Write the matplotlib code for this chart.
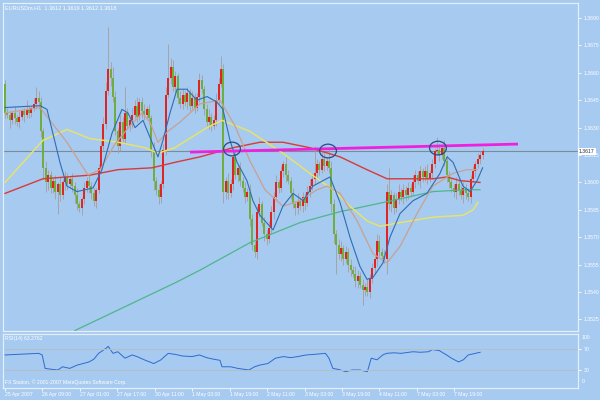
import matplotlib.pyplot as plt
import numpy as np
from matplotlib.patches import Ellipse

# EURUSDm H1, 25 Apr - 7 May 2007. prices stored as pips above BASE
BASE = 1.3500

first_open = 154
closes = [
    138, 137, 134, 138, 135, 133, 136, 139, 137, 140, 138, 141, 143, 146, 144,
    128, 108, 100, 104, 97, 101, 95, 99, 93, 100, 103, 99, 102, 98,
    93, 88, 86, 91, 97, 101, 98, 94, 90, 96, 108, 120, 132,
    150, 162, 157, 147, 128, 120, 133, 124, 138, 131, 134, 137, 142,
    136, 144, 139, 137, 140, 135, 118, 101, 96, 92, 99, 118, 148, 157,
    163, 152, 158, 146, 143, 148, 144, 149, 142, 146, 141, 147, 156, 151,
    140, 133, 136, 131, 134, 145, 154, 162, 95, 101, 94, 99, 114,
    104, 108, 101, 97, 92, 95, 80, 66, 62, 84, 88, 78, 72, 69, 75, 84,
    92, 100, 97, 106, 110, 104, 101, 94, 88, 86, 90, 87, 92, 89,
    95, 98, 102, 105, 110, 107, 113, 109, 112, 108, 88, 72,
    66, 61, 64, 58, 62, 55, 52, 50, 46, 49, 44, 41, 43, 40, 47, 53, 58,
    68, 62, 60, 58, 95, 88, 93, 86, 91, 95, 92, 96, 93, 97, 95,
    100, 104, 101, 106, 103, 106, 102, 105, 110, 117, 118, 115, 119,
    112, 104, 100, 97, 95, 99, 96, 93, 97, 94, 92, 102, 106, 110, 113, 115, 117,
]
upper_wick = [
    2, 3, 2, 1, 4, 2, 3, 1, 2, 5, 2, 1, 3, 6, 4, 3, 2, 4, 3, 2,
    2, 3, 1, 4, 2, 3, 2, 1, 3, 2, 4, 2, 1, 3, 2, 4, 2, 3, 1, 2,
    3, 4, 5, 23, 4, 6, 3, 2, 4, 3, 14, 3, 2, 4, 3, 5, 2, 3, 4, 2,
    3, 2, 4, 2, 3, 2, 3, 4, 19, 5, 4, 3, 2, 4, 3, 2, 3, 2, 4, 3,
    2, 4, 3, 2, 3, 4, 2, 3, 4, 3, 7, 3, 2, 4, 3, 5, 3, 2, 3, 2,
    3, 2, 4, 3, 2, 3, 4, 2, 3, 2, 4, 3, 3, 4, 2, 3, 2, 4, 3, 2,
    3, 2, 4, 2, 3, 2, 3, 4, 3, 15, 3, 2, 4, 3, 2, 7, 4, 3, 2, 3,
    4, 2, 3, 2, 3, 2, 4, 3, 2, 3, 2, 4, 3, 3, 2, 4, 3, 2, 3, 4,
    13, 3, 2, 3, 4, 2, 3, 2, 3, 2, 4, 3, 2, 3, 2, 3, 4, 2, 3, 2,
    7, 3, 2, 4, 3, 2, 3, 2, 4, 3, 2, 3, 2, 3, 2, 3, 2, 3, 2, 2,
]
lower_wick = [
    3, 2, 4, 2, 3, 2, 3, 2, 4, 2, 3, 2, 2, 3, 4, 3, 6, 5, 4, 3,
    3, 4, 12, 3, 2, 4, 3, 2, 3, 4, 3, 2, 4, 3, 2, 4, 3, 3, 4, 2,
    3, 2, 3, 2, 4, 3, 2, 4, 3, 2, 3, 2, 3, 4, 2, 3, 2, 4, 3, 2,
    3, 4, 5, 3, 4, 3, 2, 3, 2, 3, 2, 4, 3, 2, 3, 2, 4, 3, 2, 3,
    2, 3, 2, 3, 2, 4, 3, 2, 3, 2, 2, 6, 4, 3, 2, 3, 2, 4, 3, 2,
    3, 2, 4, 3, 3, 4, 3, 2, 4, 3, 2, 3, 4, 2, 3, 2, 3, 4, 2, 3,
    2, 4, 3, 2, 3, 4, 2, 3, 2, 3, 2, 3, 2, 3, 2, 3, 4, 5, 16, 3,
    4, 3, 2, 4, 3, 2, 3, 4, 2, 8, 3, 2, 3, 2, 3, 4, 2, 3, 2, 8,
    3, 4, 3, 2, 3, 2, 4, 3, 2, 3, 2, 3, 2, 4, 3, 2, 3, 2, 3, 2,
    2, 3, 2, 3, 4, 3, 2, 3, 4, 3, 2, 4, 3, 2, 3, 2, 3, 2, 3, 2,
]

# moving averages (bar index, pips)
blue_x = [0, 14.6, 17.5, 22.9, 25.8, 30, 36.7, 40.4, 44.6, 48.75, 51.25, 54.2, 57.5,
          61.25, 63.75, 65.8, 68.75, 71.7, 75.8, 80, 84.2, 88.3, 90.8, 93.75, 96.7,
          100.8, 103.3, 106.25, 111.7, 115.8, 120, 124.2, 128.3, 132.5, 135.4, 139.6,
          143.75, 147.9, 150.8, 153.3, 157.5, 160.4, 164.6, 170, 175.8, 181.25, 184.2,
          186.7, 190.8, 193.75, 196.7, 199]
blue_y = [141, 142, 140, 111, 98, 95, 97, 107, 127, 140, 138, 130, 134,
          122, 114, 123, 138, 151, 151, 145, 147, 144, 140, 123, 111,
          101, 90, 82, 74, 87, 94, 90, 98, 101, 103, 89,
          70, 54, 47, 48, 56, 70, 83, 90, 94, 105, 114,
          111, 98, 95, 101, 108]
tan_x = [0, 14.6, 25.8, 34.6, 39.6, 45.8, 52.1, 57.1, 60.4, 63.75, 67.9, 72.9, 81.25,
         89.6, 95.8, 102, 108.3, 115.8, 122.9, 130, 134.2, 139.6, 146.7, 153.3, 159.2,
         164.6, 171.7, 178.3, 186.7, 192.5, 196.7]
tan_y = [138, 141, 122, 104, 107, 121, 131, 138, 133, 122, 128, 133, 143,
         145, 131, 112, 96, 87, 90, 96, 98, 94, 79, 61, 56,
         65, 83, 98, 105, 107, 107]
yellow_x = [0, 15.8, 25.8, 35.4, 47.1, 58.3, 63.75, 70.8, 84.2, 90.4, 102, 115.8, 127,
            136.7, 143.75, 150.8, 156.25, 164.6, 178.3, 190.8, 195, 197]
yellow_y = [100, 123, 129, 124, 122, 119, 116, 119, 130, 134, 128, 116, 105,
            96, 87, 79, 76, 78, 81, 82, 85, 89]
red_x = [0, 15.8, 35.4, 47.1, 61.25, 70.8, 81.25, 95, 106.25, 115.8, 127, 139.6,
         150.8, 159.2, 178.3, 184.2, 189.6, 197.9]
red_y = [94, 102, 104, 107, 108, 111, 114, 119, 122, 122, 119, 114,
         107, 102, 102, 103, 101, 100]
green_x = [29.2, 70.8, 81.25, 102, 122.9, 139.6, 164.6, 178.3, 192.5, 197.9]
green_y = [19, 45, 52, 67, 78, 84, 91, 95, 96, 96]

# trendline and marked touches
trend_x = [77.1, 213.75]
trend_y = [116.6, 121.0]
circle_x = [94.6, 134.6, 180.4]
circle_y = [118.3, 117.2, 118.8]
last_price = 1.3617

rsi_x = [0, 14, 15.5, 16.7, 20, 22, 24, 27, 30, 35, 37, 39, 42, 43, 45, 47, 50, 53, 55,
         58, 62, 65, 68, 71, 74, 78, 81, 84, 87, 89.6, 90.4, 94, 97, 101.6, 104, 106,
         109.5, 112.7, 116, 119, 122, 125.5, 128.7, 133.5, 135, 136.6, 139, 142, 144.6,
         147.8, 151, 152.6, 155, 157.4, 159, 162, 165, 170, 173, 176.5, 178, 181, 184,
         186, 189, 191, 193, 196, 198]
rsi_y = [58, 61, 58, 33, 31, 30, 36, 33, 39, 45, 50, 61, 70, 74, 61, 64, 52, 58, 55,
         49, 42, 49, 61, 59, 56, 55, 58, 53, 50, 48, 36, 36, 33, 30, 36, 39,
         42, 52, 55, 53, 55, 58, 59, 61, 52, 33, 31, 27, 30,
         30, 27, 52, 49, 58, 61, 62, 61, 64, 63, 64, 68, 66, 58,
         52, 45, 49, 58, 61, 63]

price_ticks = [1.3690, 1.3675, 1.3660, 1.3645, 1.3630, 1.3615, 1.3600,
               1.3585, 1.3570, 1.3555, 1.3540, 1.3525]
time_labels = ['25 Apr 2007', '26 Apr 09:00', '27 Apr 01:00', '27 Apr 17:00',
               '30 Apr 11:00', '1 May 03:00', '1 May 19:00', '2 May 11:00',
               '3 May 03:00', '3 May 19:00', '4 May 11:00', '7 May 03:00',
               '7 May 19:00']

BG = '#a6caf0'
FG = 'white'
FS = 3.7
plt.rcParams['font.family'] = ['Liberation Sans', 'DejaVu Sans']

def px(v):
    return BASE + np.asarray(v, dtype=float) / 10000.0

opens = [first_open] + closes[:-1]
highs = [max(o, c) + u for o, c, u in zip(opens, closes, upper_wick)]
lows = [min(o, c) - d for o, c, d in zip(opens, closes, lower_wick)]
idx = np.arange(len(closes))

fig = plt.figure(figsize=(6, 4), dpi=100, facecolor=BG)
ax = fig.add_axes([3 / 600, 69 / 400, 575 / 600, 328 / 400], facecolor=BG)
ax_rsi = fig.add_axes([3 / 600, 12 / 400, 575 / 600, 54 / 400], facecolor=BG)

# candles (red = up, green = down, like the terminal)
up = np.array(closes) >= np.array(opens)
body_col = np.where(up, '#e02424', '#6fae3c')
ax.vlines(idx, px(lows), px(highs), colors='#a89c9c', lw=0.6, zorder=2)
bot = px(np.minimum(opens, closes))
hgt = np.maximum(np.abs(np.array(closes) - np.array(opens)) / 10000.0, 0.00006)
ax.bar(idx, hgt, bottom=bot, width=0.9, color=body_col, lw=0, zorder=3)

ax.plot(green_x, px(green_y), color='#4fb68c', lw=0.9, zorder=4)
ax.plot(red_x, px(red_y), color='#d83a3a', lw=1.0, zorder=4)
ax.plot(yellow_x, px(yellow_y), color='#e6e36c', lw=1.1, zorder=4)
ax.plot(tan_x, px(tan_y), color='#c9a191', lw=0.9, zorder=4)
ax.plot(blue_x, px(blue_y), color='#2f6db3', lw=0.8, zorder=5)

ax.axhline(last_price, color='#7d8a98', lw=0.8, zorder=1)
ax.plot(trend_x, px(trend_y), color='#ee22dd', lw=2.0, zorder=6, solid_capstyle='butt')
for cx, cy in zip(circle_x, circle_y):
    ax.add_patch(Ellipse((cx, px(cy)), 7.0, 0.00075, fill=False,
                         ec='#2c4a86', lw=0.9, zorder=7))

ax.set_xlim(-0.83, 238.75)
ax.set_ylim(1.35187, 1.36982)
ax.yaxis.tick_right()
ax.set_yticks(price_ticks)
ax.set_yticklabels(['%.4f' % t for t in price_ticks])
ax.tick_params(axis='y', colors=FG, labelsize=FS, length=2, width=0.6, pad=2)
ax.set_xticks([])
for s in ax.spines.values():
    s.set_color('#e6eef8')
    s.set_linewidth(0.9)
ax.text(1.0 + 1 / 575, last_price, '%.4f' % last_price, transform=ax.get_yaxis_transform(),
        fontsize=FS, color='#203040', va='center', ha='left',
        bbox=dict(boxstyle='square,pad=0.2', fc='white', ec='none'))
ax.text(0.004, 0.992, 'EURUSDm,H1  1.3612 1.3619 1.3612 1.3618', transform=ax.transAxes,
        fontsize=4.0, color=FG, va='top', ha='left')

# RSI panel
ax_rsi.plot(rsi_x, rsi_y, color='#2f6bd0', lw=0.7)
ax_rsi.axhline(70, color='#b7bdc4', lw=0.7)
ax_rsi.axhline(30, color='#b7bdc4', lw=0.7)
ax_rsi.set_xlim(-0.83, 238.75)
ax_rsi.set_ylim(-3.5, 97)
ax_rsi.yaxis.tick_right()
ax_rsi.set_yticks([70, 30])
ax_rsi.set_yticklabels(['70', '30'])
ax_rsi.tick_params(axis='y', colors=FG, labelsize=FS, length=2, width=0.6, pad=2)
for lab, yy in (('100', 0.94), ('0', 0.12)):
    ax_rsi.text(1.0 + 4 / 575, yy, lab, transform=ax_rsi.transAxes,
                fontsize=FS, color=FG, va='center', ha='left')
for s in ax_rsi.spines.values():
    s.set_color('#e6eef8')
    s.set_linewidth(0.9)
ax_rsi.text(0.004, 0.96, 'RSI(14) 63.2762', transform=ax_rsi.transAxes,
            fontsize=FS, color=FG, va='top', ha='left')
ax_rsi.text(0.004, 0.05, 'FX Station, \u00a9 2001-2007 MetaQuotes Software Corp.',
            transform=ax_rsi.transAxes, fontsize=FS, color=FG, va='bottom', ha='left')

label_pos = np.arange(len(time_labels)) * 15.6
ax_rsi.set_xticks(label_pos)
ax_rsi.set_xticklabels(time_labels, ha='left')
ax_rsi.tick_params(axis='x', colors=FG, labelsize=FS, length=2, width=0.6, pad=1)

fig.savefig('out.png', dpi=100, facecolor=BG)
